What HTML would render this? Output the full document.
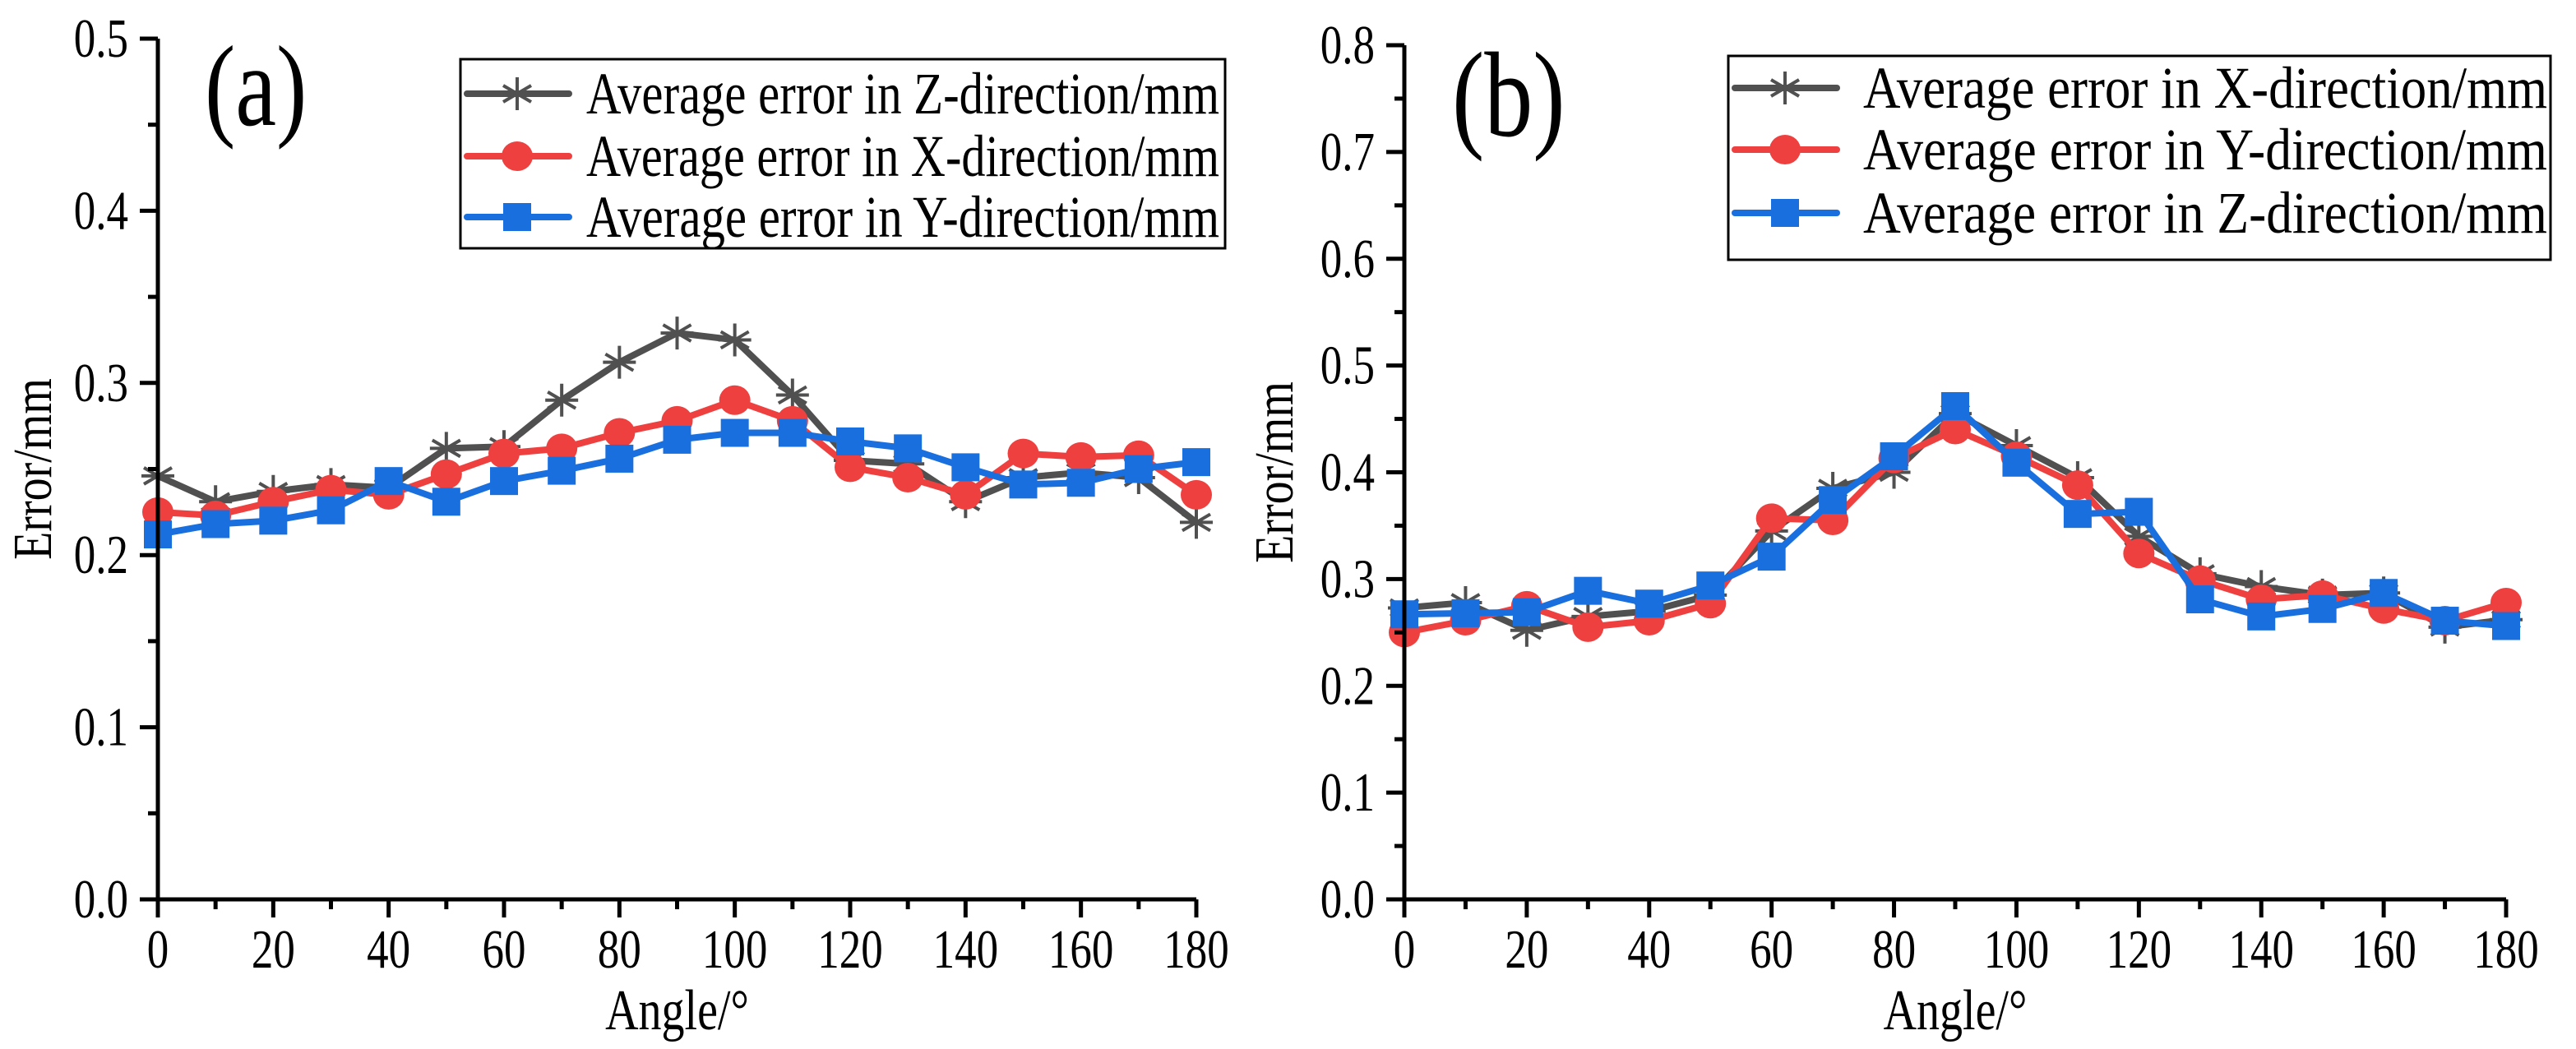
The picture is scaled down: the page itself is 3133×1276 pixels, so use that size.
<!DOCTYPE html>
<html><head><meta charset="utf-8"><style>
html,body{margin:0;padding:0;background:#fff;}
svg{display:block;}
svg text{font-family:"Liberation Serif","Times New Roman","DejaVu Serif",serif !important;fill:#000;}
</style></head><body>
<svg id="chart" width="3133" height="1276" viewBox="0 0 3133 1276" xmlns="http://www.w3.org/2000/svg" font-family="Liberation Serif, Times New Roman, DejaVu Serif, serif"></svg>
<script>
const angles = [0,10,20,30,40,50,60,70,80,90,100,110,120,130,140,150,160,170,180];
const xTicks = [0,20,40,60,80,100,120,140,160,180];
const aTicksY = ["0.0","0.1","0.2","0.3","0.4","0.5"];
const bTicksY = ["0.0","0.1","0.2","0.3","0.4","0.5","0.6","0.7","0.8"];
const aZ = [0.246,0.231,0.237,0.241,0.239,0.262,0.263,0.290,0.312,0.329,0.325,0.293,0.255,0.253,0.231,0.245,0.248,0.245,0.219];
const aX = [0.225,0.223,0.231,0.238,0.235,0.247,0.259,0.262,0.271,0.278,0.290,0.278,0.251,0.245,0.235,0.259,0.257,0.258,0.235];
const aY = [0.212,0.218,0.220,0.226,0.243,0.231,0.243,0.249,0.256,0.267,0.271,0.271,0.266,0.262,0.251,0.241,0.242,0.250,0.254];
const bX = [0.273,0.278,0.252,0.265,0.270,0.285,0.345,0.385,0.400,0.455,0.425,0.395,0.340,0.305,0.293,0.285,0.287,0.255,0.262];
const bY = [0.250,0.261,0.275,0.255,0.261,0.277,0.357,0.355,0.413,0.440,0.415,0.388,0.324,0.299,0.281,0.285,0.272,0.261,0.278];
const bZ = [0.267,0.268,0.269,0.289,0.277,0.294,0.321,0.374,0.415,0.462,0.409,0.361,0.363,0.281,0.265,0.272,0.287,0.261,0.256];

const NS="http://www.w3.org/2000/svg";
const FONT="Liberation Serif, Times New Roman, DejaVu Serif, serif";
const SY=1.25;
const svg=document.getElementById('chart');
function mk(tag,attrs,parent){const e=document.createElementNS(NS,tag);for(const k in attrs)e.setAttribute(k,attrs[k]);if(tag==='text')e.setAttribute('font-family',FONT);(parent||svg).appendChild(e);return e;}
function txt(parent,x,y,s,size,anchor,extra){
  const a={x:0,y:0,'font-size':size,'text-anchor':anchor||'start',transform:`translate(${x},${y}) scale(1,${SY})`};
  if(extra)for(const k in extra)a[k]=extra[k];
  const t=mk('text',a,parent);t.textContent=s;return t;
}
const COL={gray:'#505050',red:'#ef4040',blue:'#1a6fdf'};

function marker(g,type,cx,cy,color){
  if(type==='star'){
    const s=20;
    const m=mk('path',{d:`M${cx},${cy-s}V${cy+s}M${cx-s*0.85},${cy-s*0.5}L${cx+s*0.85},${cy+s*0.5}M${cx-s*0.85},${cy+s*0.5}L${cx+s*0.85},${cy-s*0.5}M${cx-s},${cy}H${cx+s}`,stroke:color,'stroke-width':4,fill:'none'},g);
    
    
  } else if(type==='circle'){
    const m=mk('ellipse',{cx:cx,cy:cy,rx:19,ry:18,fill:color},g);
    
    
  } else {
    const m=mk('rect',{x:cx-17,y:cy-17,width:34,height:34,fill:color},g);
    
    
  }
}

function panel(cfg){
  const g=mk('g',{});
  
  
  const xs=v=>cfg.x0+(v/180)*(cfg.x1-cfg.x0);
  const ys=v=>cfg.y0-(v/cfg.ymax)*(cfg.y0-cfg.y1);
  cfg.series.forEach(s=>{
    const sg=mk('g',{},g);
    
    
    const pts=angles.map((a,i)=>xs(a)+','+ys(s.vals[i])).join(' ');
    const pl=mk('polyline',{points:pts,fill:'none',stroke:s.color,'stroke-width':8,'stroke-linejoin':'round'},sg);
    
    
    angles.forEach((a,i)=>marker(sg,s.marker,xs(a),ys(s.vals[i]),s.color));
  });
  const ax=mk('path',{d:`M${cfg.x0},${cfg.y1}V${cfg.y0}H${cfg.x1}`,stroke:'#000','stroke-width':5,fill:'none'},g);
  
  
  const nY=cfg.yTicks.length-1;
  for(let i=0;i<=nY*2;i++){
    const v=cfg.ymax*i/(nY*2);
    const y=ys(v);
    const len=i%2===0?22:12;
    const t=mk('line',{x1:cfg.x0-len,x2:cfg.x0,y1:y,y2:y,stroke:'#000','stroke-width':5},g);
    
    
  }
  cfg.yTicks.forEach((lab,i)=>{
    const t=txt(g,cfg.x0-36,ys(parseFloat(lab))+22,lab,53,'end');
    
    
  });
  angles.forEach((a,i)=>{
    const len=i%2===0?22:12;
    const t=mk('line',{x1:xs(a),x2:xs(a),y1:cfg.y0,y2:cfg.y0+len,stroke:'#000','stroke-width':5},g);
    
    
  });
  xTicks.forEach(a=>{
    const t=txt(g,xs(a),1177,String(a),53,'middle');
    
    
  });
  const xt=txt(g,(cfg.x0+cfg.x1)/2,1252,'Angle/°',56,'middle');
  
  
  const yt=mk('text',{x:0,y:0,'text-anchor':'middle','font-size':56,transform:`translate(${cfg.ytx},${(cfg.y0+cfg.y1)/2}) rotate(-90) scale(1,1.2)`},g);
  yt.textContent='Error/mm';
  
  
  const pl=txt(g,cfg.labX,cfg.labY,cfg.label,cfg.labSize,'start');
  
  
  const lg=mk('g',{},g);
  
  
  const L=cfg.legend;
  const box=mk('rect',{x:L.x,y:L.y,width:L.w,height:L.h,fill:'#fff',stroke:'#000','stroke-width':3},lg);
  
  
  cfg.series.forEach((s,i)=>{
    const cy=L.rows[i];
    const eg=mk('g',{},lg);
    
    
    mk('line',{x1:L.x+8,x2:L.x+132,y1:cy,y2:cy,stroke:s.color,'stroke-width':8,'stroke-linecap':'round'},eg);
    marker(eg,s.marker,L.x+69,cy,s.color);
    txt(eg,L.tx,cy+24,s.label,58,'start',{textLength:L.tw,lengthAdjust:'spacingAndGlyphs'});
  });
}

panel({name:'panel-a',x0:192,x1:1455,y0:1094,y1:47,ymax:0.5,yTicks:aTicksY,ytx:62,label:'(a)',labX:249,labY:152,labSize:112,
  series:[
    {name:'series-a-z',vals:aZ,color:COL.gray,marker:'star',label:'Average error in Z-direction/mm'},
    {name:'series-a-x',vals:aX,color:COL.red,marker:'circle',label:'Average error in X-direction/mm'},
    {name:'series-a-y',vals:aY,color:COL.blue,marker:'square',label:'Average error in Y-direction/mm'}],
  legend:{x:560,y:72,w:930,h:230,rows:[114,190,264],tx:713,tw:770}});
panel({name:'panel-b',x0:1708,x1:3048,y0:1094,y1:55,ymax:0.8,yTicks:bTicksY,ytx:1572,label:'(b)',labX:1766,labY:165,labSize:118,
  series:[
    {name:'series-b-x',vals:bX,color:COL.gray,marker:'star',label:'Average error in X-direction/mm'},
    {name:'series-b-y',vals:bY,color:COL.red,marker:'circle',label:'Average error in Y-direction/mm'},
    {name:'series-b-z',vals:bZ,color:COL.blue,marker:'square',label:'Average error in Z-direction/mm'}],
  legend:{x:2102,y:68,w:1000,h:248,rows:[107,182,259],tx:2266,tw:832}});
</script>
</body></html>
